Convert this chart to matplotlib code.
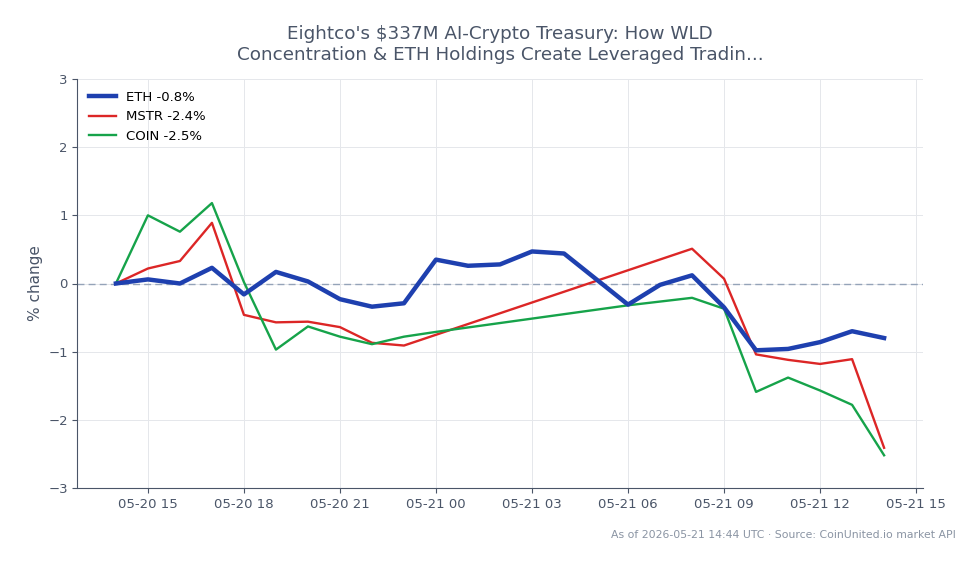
import matplotlib
matplotlib.use("Agg")
import matplotlib.pyplot as plt
import matplotlib.dates as mdates
import pandas as pd
import numpy as np

title = "Eightco's $337M AI-Crypto Treasury: How WLD\nConcentration & ETH Holdings Create Leveraged Tradin..."
footnote = "As of 2026-05-21 14:44 UTC · Source: CoinUnited.io market API"

eth_times = ["2026-05-20 14:00", "2026-05-20 15:00", "2026-05-20 16:00", "2026-05-20 17:00",
             "2026-05-20 18:00", "2026-05-20 19:00", "2026-05-20 20:00", "2026-05-20 21:00",
             "2026-05-20 22:00", "2026-05-20 23:00", "2026-05-21 00:00", "2026-05-21 01:00",
             "2026-05-21 02:00", "2026-05-21 03:00", "2026-05-21 04:00", "2026-05-21 06:00",
             "2026-05-21 07:00", "2026-05-21 08:00", "2026-05-21 09:00", "2026-05-21 10:00",
             "2026-05-21 11:00", "2026-05-21 12:00", "2026-05-21 13:00", "2026-05-21 14:00"]
eth_vals = [0.0, 0.06, 0.0, 0.23, -0.16, 0.17, 0.03, -0.23, -0.34, -0.29, 0.35, 0.26,
            0.28, 0.47, 0.44, -0.31, -0.02, 0.12, -0.35, -0.98, -0.96, -0.86, -0.70, -0.80]

mstr_times = ["2026-05-20 14:00", "2026-05-20 15:00", "2026-05-20 16:00", "2026-05-20 17:00",
              "2026-05-20 18:00", "2026-05-20 19:00", "2026-05-20 20:00", "2026-05-20 21:00",
              "2026-05-20 22:00", "2026-05-20 23:00", "2026-05-21 08:00", "2026-05-21 09:00",
              "2026-05-21 10:00", "2026-05-21 11:00", "2026-05-21 12:00", "2026-05-21 13:00",
              "2026-05-21 14:00"]
mstr_vals = [0.0, 0.22, 0.33, 0.89, -0.46, -0.57, -0.56, -0.64, -0.87, -0.91, 0.51, 0.07,
             -1.04, -1.12, -1.18, -1.11, -2.41]

coin_times = ["2026-05-20 14:00", "2026-05-20 15:00", "2026-05-20 16:00", "2026-05-20 17:00",
              "2026-05-20 18:00", "2026-05-20 19:00", "2026-05-20 20:00", "2026-05-20 21:00",
              "2026-05-20 22:00", "2026-05-20 23:00", "2026-05-21 00:00", "2026-05-21 06:00",
              "2026-05-21 08:00", "2026-05-21 09:00", "2026-05-21 10:00", "2026-05-21 11:00",
              "2026-05-21 12:00", "2026-05-21 13:00", "2026-05-21 14:00"]
coin_vals = [0.0, 1.0, 0.76, 1.18, 0.02, -0.97, -0.63, -0.78, -0.89, -0.78, -0.71, -0.32,
             -0.21, -0.37, -1.59, -1.38, -1.57, -1.78, -2.52]

labels = ["ETH -0.8%", "MSTR -2.4%", "COIN -2.5%"]

plt.rcParams['font.family'] = ['DejaVu Sans']
fig = plt.figure(figsize=(9.79, 5.64), dpi=100)
ax = fig.add_axes([77.5/979, 1-488/564, (922.5-77.5)/979, (488-79)/564])

text_c = "#4a5568"
ax.plot(pd.to_datetime(eth_times), eth_vals, color="#1e40af", lw=3.2, label=labels[0], zorder=4)
ax.plot(pd.to_datetime(mstr_times), mstr_vals, color="#dc2626", lw=1.7, label=labels[1], zorder=3)
ax.plot(pd.to_datetime(coin_times), coin_vals, color="#16a34a", lw=1.7, label=labels[2], zorder=3)
ax.axhline(0, color="#94a3b8", lw=1, ls=(0, (5, 3)), zorder=2)

ax.set_ylim(-3, 3)
ax.set_yticks([-3, -2, -1, 0, 1, 2, 3])
ax.set_yticklabels(["\u22123", "\u22122", "\u22121", "0", "1", "2", "3"])
ax.xaxis.set_major_locator(mdates.HourLocator(byhour=[0, 3, 6, 9, 12, 15, 18, 21]))
ax.xaxis.set_major_formatter(mdates.DateFormatter("%m-%d %H"))
ax.margins(x=0.05)

ax.grid(True, color="#e5e7eb", lw=0.7)
ax.set_axisbelow(True)
for s in ["top", "right"]:
    ax.spines[s].set_visible(False)
for s in ["left", "bottom"]:
    ax.spines[s].set_color("#4a5568")
ax.tick_params(colors=text_c, labelsize=9.5)
ax.set_ylabel("% change", color=text_c, fontsize=11)
ax.set_title(title, color=text_c, fontsize=13.2, pad=14)

leg = ax.legend(loc="upper left", frameon=False, fontsize=9.5)

fig.text(956/979, 1-535/564, footnote, ha="right", va="center", fontsize=7.8, color="#8a94a3")

fig.savefig("out.png", dpi=100)
